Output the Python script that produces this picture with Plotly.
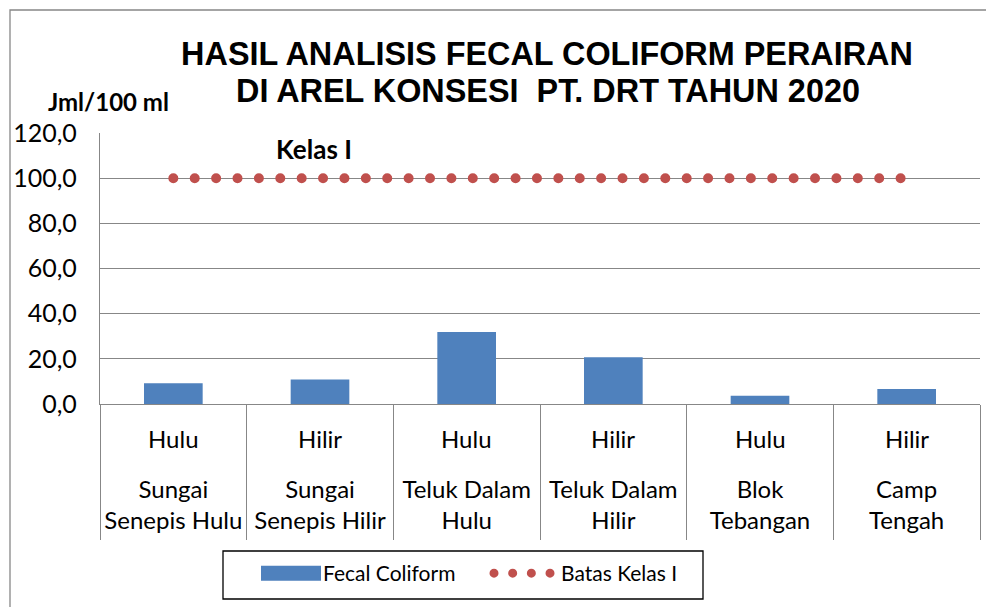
import plotly.graph_objects as go

# ---- data ----
locations = ["Sungai<br>Senepis Hulu", "Sungai<br>Senepis Hilir", "Teluk Dalam<br>Hulu",
             "Teluk Dalam<br>Hilir", "Blok<br>Tebangan", "Camp<br>Tengah"]
positions = ["Hulu", "Hilir", "Hulu", "Hilir", "Hulu", "Hilir"]
fecal_coliform = [9.2, 10.9, 31.9, 20.7, 3.7, 6.6]
batas_kelas_1 = [100, 100, 100, 100, 100, 100]
y_ticks = [0, 20, 40, 60, 80, 100, 120]
title_lines = ["HASIL ANALISIS FECAL COLIFORM PERAIRAN", "DI AREL KONSESI  PT. DRT TAHUN 2020"]

BLUE = "#4F81BD"
RED = "#C0504D"
GRID = "#878787"
TXT = "Lato, Carlito, sans-serif"
TITLE_FONT = "Liberation Sans, Arial, sans-serif"


def px_x(p):
    return (p - 100) / 880


def px_y(p):
    return (404 - p) / 271


fig = go.Figure()
fig.add_trace(go.Bar(x=locations, y=fecal_coliform, name="Fecal Coliform",
                     marker=dict(color=BLUE, line=dict(width=0))))
fig.add_trace(go.Scatter(x=locations, y=batas_kelas_1, name="Batas Kelas I", mode="lines",
                         line=dict(color=RED, width=10, dash="0.01px,21.38px")))

annotations = []
for loc, pos in zip(locations, positions):
    annotations.append(dict(x=loc, y=0, xref="x", yref="y", text=pos, showarrow=False,
                            yanchor="middle", yshift=-34, font=dict(family=TXT, size=24, color="black")))
annotations.append(dict(x=locations[1], y=100, xref="x", yref="y", text="<b>Kelas I</b>",
                        showarrow=False, yanchor="bottom", yshift=11, xshift=-6,
                        font=dict(family=TXT, size=26, color="black")))
annotations.append(dict(x=px_x(108), y=px_y(101), xref="paper", yref="paper",
                        text="<b>Jml/100 ml</b>", showarrow=False, xanchor="center", yanchor="middle",
                        font=dict(family=TXT, size=24, color="black")))
annotations.append(dict(x=px_x(548), y=px_y(91), xref="paper", yref="paper",
                        text="<b>" + title_lines[1] + "</b>", showarrow=False,
                        xanchor="center", yanchor="middle",
                        font=dict(family=TITLE_FONT, size=32.4, color="black")))

fig.update_layout(
    width=986, height=607,
    margin=dict(l=100, r=6, t=133, b=203),
    paper_bgcolor="white", plot_bgcolor="white",
    separators=",.",
    bargap=0.6,
    title=dict(text="<b>" + title_lines[0] + "</b>",
               x=547 / 986, xanchor="center", xref="container",
               y=1 - 42 / 607, yanchor="top", yref="container",
               font=dict(family=TITLE_FONT, size=32.4, color="black")),
    showlegend=True,
    legend=dict(orientation="h", x=px_x(283), xanchor="left",
                y=px_y(553), yanchor="top",
                borderwidth=0, entrywidth=193, bgcolor="rgba(0,0,0,0)",
                font=dict(family=TXT, size=21, color="black")),
    annotations=annotations,
    shapes=[dict(type="rect", xref="paper", yref="paper",
                 x0=px_x(10), x1=px_x(992), y0=px_y(615), y1=px_y(10),
                 line=dict(color=GRID, width=1.3), fillcolor="rgba(0,0,0,0)", layer="below"),
            dict(type="rect", xref="paper", yref="paper",
                 x0=px_x(223), x1=px_x(703), y0=px_y(599), y1=px_y(551),
                 line=dict(color="black", width=1.3), fillcolor="rgba(0,0,0,0)", layer="below")],
)
fig.update_xaxes(type="category", showline=True, linecolor=GRID, linewidth=1.3,
                 ticks="outside", tickson="boundaries", ticklen=135, tickcolor=GRID, tickwidth=1.3,
                 ticklabelstandoff=64, showgrid=False, tickangle=0, automargin=False,
                 tickfont=dict(family=TXT, size=24, color="black"))
fig.update_yaxes(range=[0, 120], tickvals=y_ticks, tickformat=".1f",
                 showline=True, linecolor=GRID, linewidth=1.3,
                 showgrid=True, gridcolor=GRID, gridwidth=1.3, zeroline=False,
                 ticks="", ticklabelstandoff=17, automargin=False,
                 tickfont=dict(family=TXT, size=25, color="black"))

post = """
document.body.style.margin='0';
var gd = document.getElementById('{plot_id}');
function applyStyle(){
  gd.querySelectorAll('.scatterlayer .js-line').forEach(function(p){ p.style.strokeLinecap='round'; });
  gd.querySelectorAll('.legend .js-line').forEach(function(p){
    p.setAttribute('d','M-27,0h57');
    p.style.strokeLinecap='round'; p.style.strokeDasharray='0.01px,18.66px'; p.style.strokeWidth='9px'; });
  gd.querySelectorAll('.legend .legendpoints path').forEach(function(p){
    var d = p.getAttribute('d') || '';
    if (d.replace(/\\s/g,'') === 'M6,6H-6V-6H6Z' || p.getAttribute('data-wide') === '1') {
      p.setAttribute('d','M18,7.5H-42V-7.5H18Z'); p.setAttribute('data-wide','1'); }
  });
  gd.querySelectorAll('.legend .scrollbox').forEach(function(g){ g.removeAttribute('clip-path'); });
}
applyStyle();
setTimeout(applyStyle, 100);
setTimeout(applyStyle, 500);
if (gd.on) { gd.on('plotly_afterplot', applyStyle); }
"""
fig.write_html("out.html", post_script=post, config={"displayModeBar": False})
